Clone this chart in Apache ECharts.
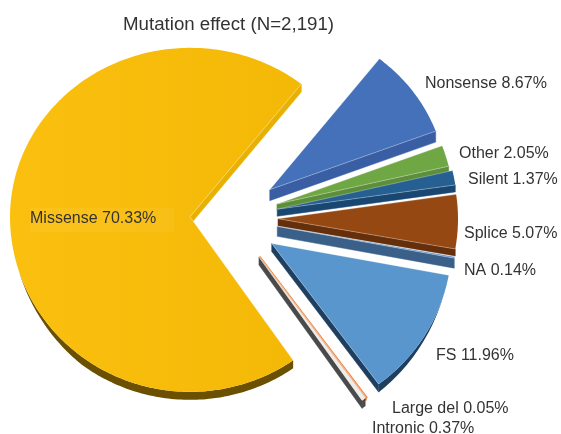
<!DOCTYPE html>
<html>
<head>
<meta charset="utf-8">
<script src="https://cdn.jsdelivr.net/npm/echarts@6/dist/echarts.min.js"></script>
<style>
    html,body{margin:0;padding:0;background:#fff;}
</style>
</head>
<body>
<div id="main" style="width:561px;height:434px;"></div>
<script>
    var titleText = 'Mutation effect (N=2,191)';
    var categories = ['Missense','Nonsense','Other','Silent','Splice','NA','FS','Large del','Intronic'];
    var percents = [70.33,8.67,2.05,1.37,5.07,0.14,11.96,0.05,0.37];

    // slice look, same order as categories
    var topColors = ['#f9bd0e','#4471ba','#70a745','#265f91','#964812','#5a8ec6','#5996cd','#ed7d31','#ececec'];
    var cutColors = ['#e8b000','#3a5ea3','#5d8f3a','#1a4672','#642f0a','#3a6089','#1f3f60','#ed7d31','#4a4a4a'];
    var rimColors = ['#6a5000','#3a5ea3','#5d8f3a','#1a4672','#642f0a','#3a6089','#1f3f60','#c9682a','#4a4a4a'];
    var explode = [41,48,48,47,47,47,48,48,48];
    var depth = [8,11,6,7,7,10,8,3,8];
    var radiusScale = [1,0.985,0.98,1,1,1,1,1,1];
    var labelPos = [[30,217],[425,82],[459,152],[468,178],[464,232],[464,269],[436,354],[392,407],[372,427]];

    var centerX = 231, centerY = 218;
    var radiusX = 180, radiusUp = 169, radiusDown = 175;
    var startAngle = 51.8;
    var total = 0;
    percents.forEach(function(p){ total += p; });

    function rimPoint(t,cx,cy,dy,scale){
        var s = Math.sin(t);
        return [cx + scale*radiusX*Math.cos(t), cy - scale*(s>0?radiusUp:radiusDown)*s + dy];
    }

    function renderSlice(params,api){
        var i = params.dataIndex;
        var before = 0;
        for(var k=1;k<i;k++){ before += percents[k]; }
        // Missense is first in the list but runs counterclockwise round the left
        var a0,a1;
        if(i==0){
            a0 = startAngle;
            a1 = startAngle + api.value(0)/total*360;
        }else{
            a0 = startAngle - before/total*360;
            a1 = a0 - api.value(0)/total*360;
        }
        var t0 = a0*Math.PI/180, t1 = a1*Math.PI/180;
        var mid = (t0+t1)/2;
        var cx = centerX + explode[i]*Math.cos(mid);
        var cy = centerY - explode[i]*Math.sin(mid);
        var d = depth[i];
        var steps = Math.max(2,Math.ceil(Math.abs(a1-a0)));
        var arc = [], arcLow = [];
        for(var n=0;n<=steps;n++){
            var t = t0 + (t1-t0)*n/steps;
            // the rim wall only shows on the side turned to the viewer
            var taper = Math.min(1,Math.max(0,(-Math.sin(t)-0.3)/0.5));
            arc.push(rimPoint(t,cx,cy,0,radiusScale[i]));
            arcLow.push(rimPoint(t,cx,cy,d*taper,radiusScale[i]));
        }
        var first = arc[0], last = arc[arc.length-1];
        // only the cut edge facing down is seen
        var cut = i==0 ? first : last;
        var topFill = topColors[i];
        if(i==0){
            topFill = new echarts.graphic.LinearGradient(10,0,300,0,[
                {offset:0,color:'#fbc00f'},
                {offset:1,color:'#f4b907'}
            ],true);
        }
        return {
            type:'group',
            children:[
                {type:'polygon',shape:{points:[[cx,cy],cut,[cut[0],cut[1]+d],[cx,cy+d]]},style:{fill:cutColors[i],stroke:cutColors[i],lineWidth:0.5}},
                {type:'polygon',shape:{points:arc.concat(arcLow.slice().reverse())},style:{fill:rimColors[i]}},
                {type:'polygon',shape:{points:[[cx,cy]].concat(arc)},style:{fill:topFill,stroke:i==7?topColors[i]:null,lineWidth:2}},
                {type:'polyline',shape:{points:[first,[cx,cy],last]},style:{fill:null,stroke:'rgba(255,255,255,0.45)',lineWidth:0.7}}
            ]
        };
    }

    var labels = categories.map(function(name,i){
        return {
            type:'text',
            left:labelPos[i][0],
            top:labelPos[i][1]-6,
            z:10,
            style:{
                text:name+' '+percents[i].toFixed(2)+'%',
                font:'16px "Liberation Sans"',
                fill:'#333'
            }
        };
    });
    // faint box behind the Missense label
    labels.push({
        type:'rect',
        z:9,
        shape:{x:30,y:208,width:144,height:24},
        style:{fill:'rgba(255,255,255,0.05)'}
    });

    var myChart = echarts.init(document.getElementById('main'),null,{renderer:'canvas'});
    myChart.setOption({
        animation:false,
        title:{
            text:titleText,
            left:118,
            top:10,
            textStyle:{fontFamily:'Liberation Sans',fontSize:18.7,fontWeight:'normal',color:'#333'}
        },
        graphic:labels,
        series:[{
            type:'custom',
            coordinateSystem:'none',
            silent:true,
            clip:false,
            renderItem:renderSlice,
            data:percents.map(function(p){ return [p]; })
        }]
    });
</script>
</body>
</html>
